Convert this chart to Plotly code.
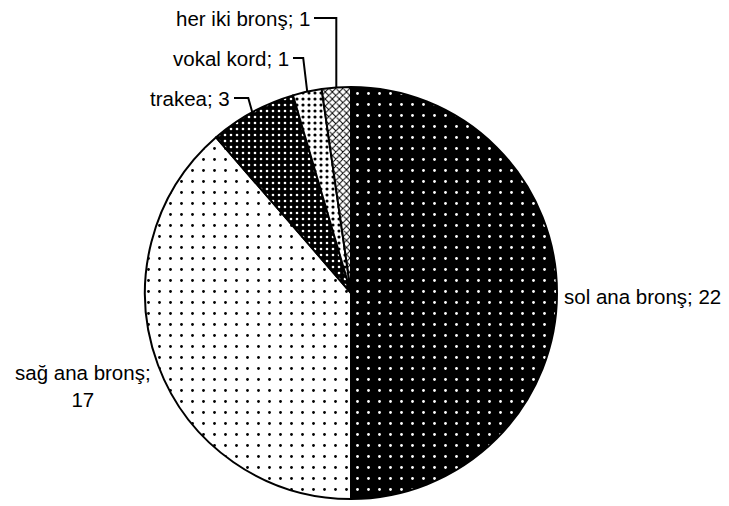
import numpy as np
import plotly.graph_objects as go

labels = ["sol ana bronş", "sağ ana bronş", "trakea", "vokal kord", "her iki bronş"]
values = [22, 17, 3, 1, 1]
label_texts = ["sol ana bronş; 22", "sağ ana bronş;<br>17", "trakea; 3", "vokal kord; 1", "her iki bronş; 1"]

W, H = 729, 506
CX, CY, R = 351, 293, 206


def px(x):
    return x / W


def py(y):
    return 1 - y / H


bg = ["black", "white", "black", "white", "white"]
fg = ["white", "black", "white", "black", "black"]
shapes_p = [".", ".", ".", ".", "x"]
sizes = [11, 11, 6, 6, 5]
solid = [0.05, 0.05, 0.15, 0.22, 0.35]

fig = go.Figure(go.Pie(
    labels=labels, values=values, sort=False, direction="clockwise", rotation=0,
    textinfo="none", hoverinfo="label+value", showlegend=False,
    domain=dict(x=[px(CX - R), px(CX + R)], y=[py(CY + R), py(CY - R)]),
    marker=dict(colors=bg, line=dict(color="black", width=2),
                pattern=dict(shape=shapes_p, bgcolor=bg, fgcolor=fg, size=sizes,
                             solidity=solid, fillmode="replace")),
))

# mid angles of slices (clockwise from 12 o'clock)
vals = np.array(values, dtype=float)
cum = np.cumsum(vals) / vals.sum() * 360
mid = cum - vals / vals.sum() * 180
edge = [(CX + R * np.sin(np.radians(a)), CY - R * np.cos(np.radians(a))) for a in mid]

font = dict(family="Arial, Liberation Sans, sans-serif", size=20.5, color="black")
ann = []
# label placements: (x, y, xanchor)
place = {
    0: (562, 296, "left"),
    1: (83, 386, "center"),
    2: (232, 98, "right"),
    3: (291, 58, "right"),
    4: (312, 18, "right"),
}
for i, t in enumerate(label_texts):
    x, y, xa = place[i]
    ann.append(dict(x=px(x), y=py(y), xref="paper", yref="paper", text=t, showarrow=False,
                    xanchor=xa, yanchor="middle", font=font))

shapes = []
for i in (2, 3, 4):
    x, y, _ = place[i]
    ex, ey = edge[i]
    elx = ex - (4 if i != 4 else 0)
    path = f"M {px(ex)},{py(ey)} L {px(elx)},{py(y)} L {px(x + 2)},{py(y)}"
    shapes.append(dict(type="path", xref="paper", yref="paper", path=path,
                       line=dict(color="black", width=2)))

fig.update_layout(width=W, height=H, margin=dict(l=0, r=0, t=0, b=0),
                  paper_bgcolor="white", plot_bgcolor="white",
                  annotations=ann, shapes=shapes)
fig.write_html("out.html")
